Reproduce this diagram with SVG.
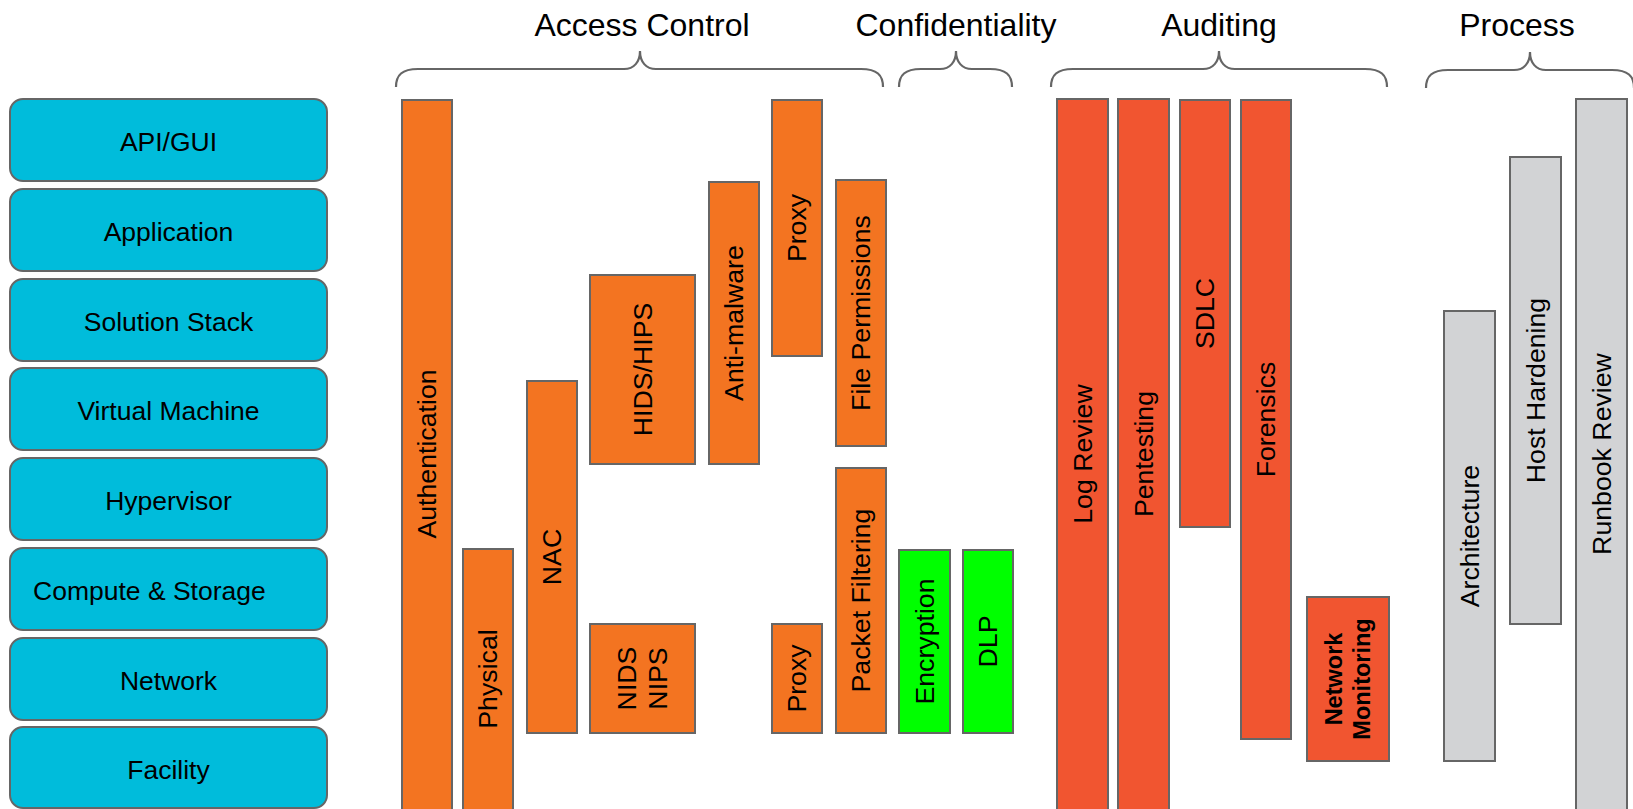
<svg xmlns="http://www.w3.org/2000/svg" width="1633" height="809" viewBox="0 0 1633 809">
<style>
text{font-family:"Liberation Sans",Arial,sans-serif;fill:#000}
.layer{fill:#00BCDB;stroke:#666;stroke-width:2}
.lt{font-size:26.5px;text-anchor:middle;dominant-baseline:central}
.title{font-size:32px;text-anchor:middle}
.brace{fill:none;stroke:#666;stroke-width:2.2}
.bar rect{stroke:#666;stroke-width:2}
.ac rect{fill:#F37421}
.cf rect{fill:#00FF00}
.au rect{fill:#F15530}
.pr rect{fill:#D2D3D5}
.bt{font-size:26.7px;text-anchor:middle;dominant-baseline:central}
.bb{font-size:23.5px;font-weight:bold;text-anchor:middle;dominant-baseline:central}
</style>
<rect width="1633" height="809" fill="#fff"/>

<g id="layers">
<g id="layer-api"><rect class="layer" x="10" y="99" width="317" height="82" rx="13"/><text class="lt" x="168.5" y="142">API/GUI</text></g>
<g id="layer-application"><rect class="layer" x="10" y="189" width="317" height="82" rx="13"/><text class="lt" x="168.5" y="232">Application</text></g>
<g id="layer-solution"><rect class="layer" x="10" y="279" width="317" height="82" rx="13"/><text class="lt" x="168.5" y="322">Solution Stack</text></g>
<g id="layer-vm"><rect class="layer" x="10" y="368" width="317" height="82" rx="13"/><text class="lt" x="168.5" y="411">Virtual Machine</text></g>
<g id="layer-hypervisor"><rect class="layer" x="10" y="458" width="317" height="82" rx="13"/><text class="lt" x="168.5" y="501">Hypervisor</text></g>
<g id="layer-compute"><rect class="layer" x="10" y="548" width="317" height="82" rx="13"/><text class="lt" x="33" y="591" style="text-anchor:start">Compute &amp; Storage</text></g>
<g id="layer-network"><rect class="layer" x="10" y="638" width="317" height="82" rx="13"/><text class="lt" x="168.5" y="681">Network</text></g>
<g id="layer-facility"><rect class="layer" x="10" y="727" width="317" height="81" rx="13"/><text class="lt" x="168.5" y="770">Facility</text></g>
</g>

<g id="titles">
<text class="title" x="642" y="36">Access Control</text>
<text class="title" x="956" y="36">Confidentiality</text>
<text class="title" x="1219" y="36">Auditing</text>
<text class="title" x="1517" y="36">Process</text>
</g>

<g id="braces">
<path class="brace" d="M396,87 C396,75 402,69 418,69 L624,69 C634,69 640,62 640,51 C640,62 646,69 656,69 L861,69 C877,69 883,75 883,87"/>
<path class="brace" d="M899,87 C899,75 905,69 921,69 L940,69 C950,69 956,62 956,51 C956,62 962,69 972,69 L990,69 C1006,69 1012,75 1012,87"/>
<path class="brace" d="M1051,87 C1051,75 1057,69 1073,69 L1203,69 C1213,69 1219,62 1219,51 C1219,62 1225,69 1235,69 L1365,69 C1381,69 1387,75 1387,87"/>
<path class="brace" d="M1426,88 C1426,76 1432,70 1448,70 L1514,70 C1524,70 1530,63 1530,52 C1530,63 1536,70 1546,70 L1612,70 C1628,70 1634,76 1634,88"/>
</g>

<g id="access-control" class="bar ac">
<g id="authentication"><rect x="402" y="100" width="50" height="715"/><text class="bt" x="427" y="454" transform="rotate(-90 427 454)">Authentication</text></g>
<g id="physical"><rect x="463" y="549" width="50" height="266"/><text class="bt" x="488" y="679" transform="rotate(-90 488 679)">Physical</text></g>
<g id="nac"><rect x="527" y="381" width="50" height="352"/><text class="bt" x="552" y="557" transform="rotate(-90 552 557)">NAC</text></g>
<g id="hids-hips"><rect x="590" y="275" width="105" height="189"/><text class="bt" x="642.5" y="369.5" transform="rotate(-90 642.5 369.5)">HIDS/HIPS</text></g>
<g id="nids-nips"><rect x="590" y="624" width="105" height="109"/><text class="bt" transform="translate(642.5 678.5) rotate(-90)"><tspan x="0" y="-15.5">NIDS</tspan><tspan x="0" y="15.5">NIPS</tspan></text></g>
<g id="anti-malware"><rect x="709" y="182" width="50" height="282"/><text class="bt" x="734" y="323" transform="rotate(-90 734 323)">Anti-malware</text></g>
<g id="proxy-top"><rect x="772" y="100" width="50" height="256"/><text class="bt" x="797" y="228" transform="rotate(-90 797 228)">Proxy</text></g>
<g id="file-permissions"><rect x="836" y="180" width="50" height="266"/><text class="bt" x="861" y="313" transform="rotate(-90 861 313)">File Permissions</text></g>
<g id="proxy-bottom"><rect x="772" y="624" width="50" height="109"/><text class="bt" x="797" y="678.5" transform="rotate(-90 797 678.5)">Proxy</text></g>
<g id="packet-filtering"><rect x="836" y="468" width="50" height="265"/><text class="bt" x="861" y="600.5" transform="rotate(-90 861 600.5)">Packet Filtering</text></g>
</g>

<g id="confidentiality" class="bar cf">
<g id="encryption"><rect x="899" y="550" width="51" height="183"/><text class="bt" x="924.5" y="641.5" transform="rotate(-90 924.5 641.5)">Encryption</text></g>
<g id="dlp"><rect x="963" y="550" width="50" height="183"/><text class="bt" x="988" y="641.5" transform="rotate(-90 988 641.5)">DLP</text></g>
</g>

<g id="auditing" class="bar au">
<g id="log-review"><rect x="1057" y="99" width="51" height="716"/><text class="bt" x="1082.5" y="454" transform="rotate(-90 1082.5 454)">Log Review</text></g>
<g id="pentesting"><rect x="1118" y="99" width="51" height="716"/><text class="bt" x="1143.5" y="454" transform="rotate(-90 1143.5 454)">Pentesting</text></g>
<g id="sdlc"><rect x="1180" y="100" width="50" height="427"/><text class="bt" x="1205" y="313.5" transform="rotate(-90 1205 313.5)">SDLC</text></g>
<g id="forensics"><rect x="1241" y="100" width="50" height="639"/><text class="bt" x="1266" y="419.5" transform="rotate(-90 1266 419.5)">Forensics</text></g>
<g id="network-monitoring"><rect x="1307" y="597" width="82" height="164"/><text class="bb" transform="translate(1348 679) rotate(-90)"><tspan x="0" y="-14">Network</tspan><tspan x="0" y="14">Monitoring</tspan></text></g>
</g>

<g id="process" class="bar pr">
<g id="architecture"><rect x="1444" y="311" width="51" height="450"/><text class="bt" x="1469.5" y="536" transform="rotate(-90 1469.5 536)">Architecture</text></g>
<g id="host-hardening"><rect x="1510" y="157" width="51" height="467"/><text class="bt" x="1535.5" y="390.5" transform="rotate(-90 1535.5 390.5)">Host Hardening</text></g>
<g id="runbook-review"><rect x="1576" y="99" width="51" height="716"/><text class="bt" x="1601.5" y="454" transform="rotate(-90 1601.5 454)">Runbook Review</text></g>
</g>

<g id="connectors"></g>
</svg>
